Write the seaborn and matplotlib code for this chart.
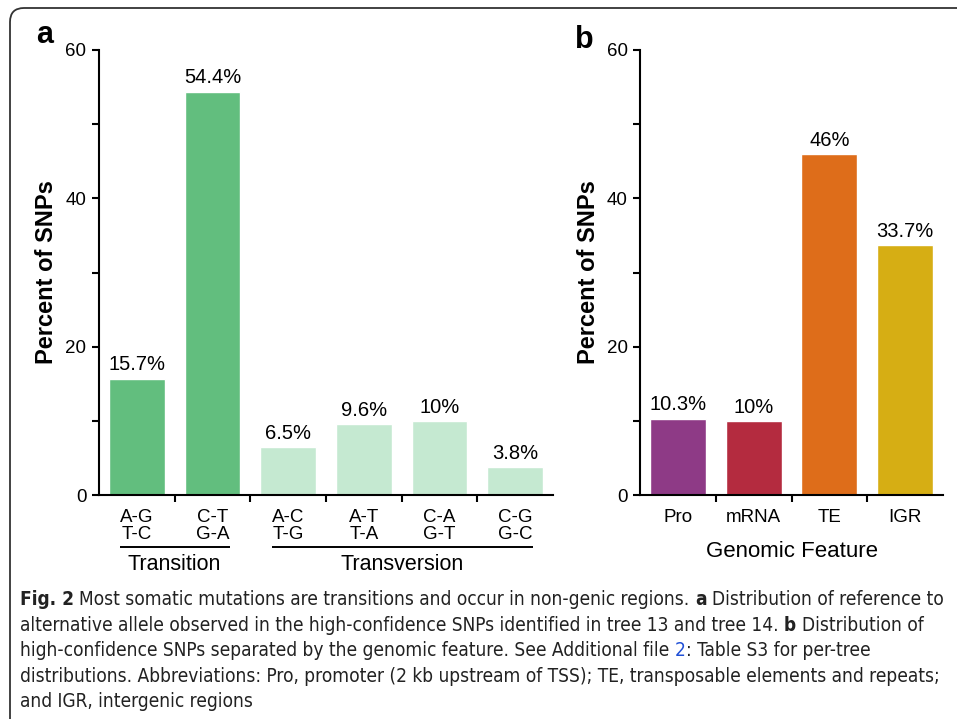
import matplotlib
matplotlib.use("Agg")
import matplotlib.pyplot as plt
import matplotlib.transforms as mtransforms
from matplotlib.patches import FancyBboxPatch
import seaborn as sns
import pandas as pd

# ---------------- data ----------------
mut_labels = ["A-G\nT-C", "C-T\nG-A", "A-C\nT-G", "A-T\nT-A", "C-A\nG-T", "C-G\nG-C"]
mut_values = [15.7, 54.4, 6.5, 9.6, 10.0, 3.8]
mut_text = ["15.7%", "54.4%", "6.5%", "9.6%", "10%", "3.8%"]
mut_group = ["Transition", "Transition", "Transversion", "Transversion", "Transversion", "Transversion"]
group_colors = {"Transition": "#62be7e", "Transversion": "#c5e9d1"}

feat_labels = ["Pro", "mRNA", "TE", "IGR"]
feat_values = [10.3, 10.0, 46.0, 33.7]
feat_text = ["10.3%", "10%", "46%", "33.7%"]
feat_colors = ["#8e3a86", "#b42b3f", "#de6d1a", "#d6ae14"]

y_major = [0, 20, 40, 60]
y_minor = [10, 30, 50]

W, H = 957, 719
sns.set_theme(style="white")
plt.rcParams["font.family"] = ["Liberation Sans", "DejaVu Sans"]
for k in ["text.color", "axes.labelcolor", "xtick.color", "ytick.color"]:
    plt.rcParams[k] = "black"

fig = plt.figure(figsize=(W / 100, H / 100), dpi=100)

def px_axes(left, top, right, bottom):
    return fig.add_axes([left / W, 1 - bottom / H, (right - left) / W, (bottom - top) / H])

ax_a = px_axes(99, 50, 553, 495)
ax_b = px_axes(640, 50, 943, 495)

df_a = pd.DataFrame({"mut": mut_labels, "val": mut_values, "grp": mut_group})
df_b = pd.DataFrame({"feat": feat_labels, "val": feat_values})

sns.barplot(data=df_a, x="mut", y="val", hue="grp", palette=group_colors,
            width=0.74, dodge=False, legend=False, ax=ax_a, saturation=1)
sns.barplot(data=df_b, x="feat", y="val", hue="feat", palette=feat_colors,
            width=0.74, legend=False, ax=ax_b, saturation=1)

lw = 1.5
tick_fs = 13.5
for ax, n in [(ax_a, len(mut_labels)), (ax_b, len(feat_labels))]:
    ax.set_xlim(-0.5, n - 0.5)
    ax.set_ylim(0, 60)
    ax.set_yticks(y_major)
    ax.set_yticks(y_minor, minor=True)
    ax.set_xticks([i + 0.5 for i in range(n - 1)], minor=True)
    sns.despine(ax=ax)
    for s in ["left", "bottom"]:
        ax.spines[s].set_linewidth(lw)
        ax.spines[s].set_color("black")
    ax.tick_params(axis="y", which="both", length=5, width=lw, color="black",
                   labelsize=tick_fs, pad=4, left=True)
    ax.tick_params(axis="x", which="major", length=0, labelsize=tick_fs, pad=10)
    ax.tick_params(axis="x", which="minor", length=5, width=lw, color="black", bottom=True)
    ax.set_xlabel("")
    ax.set_ylabel("Percent of SNPs", fontsize=17, fontweight="bold")

# value labels from data arrays
for ax, vals, texts in [(ax_a, mut_values, mut_text), (ax_b, feat_values, feat_text)]:
    for i, (v, t) in enumerate(zip(vals, texts)):
        ax.annotate(t, (i, v), xytext=(0, 3), textcoords="offset points",
                    ha="center", va="bottom", fontsize=14.5)

ax_a.set_xticks(range(len(mut_labels)))
ax_a.set_xticklabels(mut_labels, linespacing=1.04)
ax_b.set_xticks(range(len(feat_labels)))
ax_b.set_xticklabels(feat_labels)

ax_a.yaxis.set_label_coords(-0.090, 0.5)
ax_b.yaxis.set_label_coords(-0.132, 0.5)

ax_b.set_xlabel("Genomic Feature", fontsize=16, labelpad=11)

# group brackets under panel a
trans = mtransforms.blended_transform_factory(ax_a.transData, ax_a.transAxes)
groups = [("Transition", 0, 1), ("Transversion", 2, 5)]
line_y = -(547 - 495) / 445
for name, i0, i1 in groups:
    ax_a.plot([i0 - 0.22, i1 + 0.23], [line_y, line_y], transform=trans,
              color="black", lw=1.4, clip_on=False, solid_capstyle="butt")
    ax_a.text((i0 + i1) / 2, -(570 - 495) / 445, name, transform=trans, ha="center",
              va="baseline", fontsize=15.5)

# panel letters
fig.text(36 / W, 1 - 43 / H, "a", fontsize=22, fontweight="bold", va="baseline")
fig.text(575 / W, 1 - 48 / H, "b", fontsize=22, fontweight="bold", va="baseline")

# border box
box = FancyBboxPatch((10, -60), 1000, 711 + 60, boxstyle="round,pad=0,rounding_size=14",
                     transform=mtransforms.IdentityTransform(), fill=False,
                     edgecolor="#333333", lw=1.3, clip_on=False)
fig.add_artist(box)

# caption
cap_lines = [
    [("Fig. 2", "bold", "#222"), ("Most somatic mutations are transitions and occur in non-genic regions.", "normal", "#222"),
     ("a", "bold", "#222"), ("Distribution of reference to", "normal", "#222")],
    [("alternative allele observed in the high-confidence SNPs identified in tree 13 and tree 14.", "normal", "#222"),
     ("b", "bold", "#222"), ("Distribution of", "normal", "#222")],
    [("high-confidence SNPs separated by the genomic feature. See Additional file", "normal", "#222"),
     ("2", "normal", "#1f4fd6"), (": Table S3 for per-tree", "normal", "#222")],
    [("distributions. Abbreviations: Pro, promoter (2 kb upstream of TSS); TE, transposable elements and repeats;", "normal", "#222")],
    [("and IGR, intergenic regions", "normal", "#222")],
]
cap_y = [605, 631, 656, 682, 707]
cap_kw = dict(family="DejaVu Sans", fontstretch="condensed")
renderer = fig.canvas.get_renderer()

def measure(s, size, wt="normal"):
    t = fig.text(0, 0, s, fontsize=size, fontweight=wt, **cap_kw)
    w = t.get_window_extent(renderer).width
    t.remove()
    return w

def layout(size, draw):
    sp = measure("x x", size) - measure("xx", size)
    widths = []
    for segs, y in zip(cap_lines, cap_y):
        x = 20.0
        for j, (txt, wt, col) in enumerate(segs):
            if j > 0 and not txt.startswith(":"):
                x += sp
            if draw:
                fig.text(x / W, 1 - y / H, txt, fontsize=size, fontweight=wt, color=col,
                         va="baseline", ha="left", **cap_kw)
            x += measure(txt, size, wt)
        widths.append(x - 20)
    return widths

base = 14.0
w0 = layout(base, False)[0]
size = base * 932 / w0
layout(size, True)

fig.savefig("out.png", dpi=100)
